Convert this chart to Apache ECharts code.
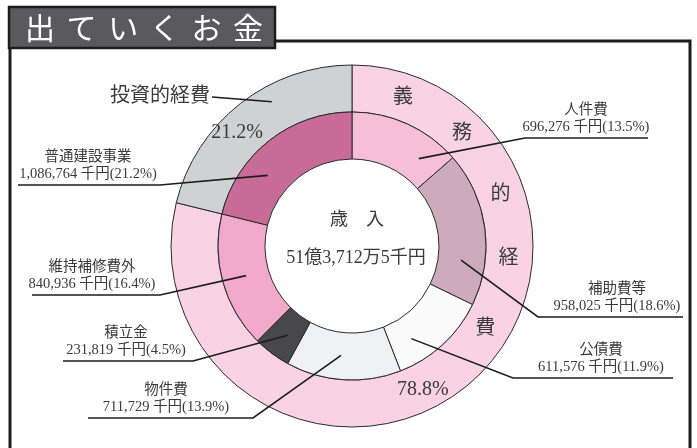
<!DOCTYPE html>
<html>
<head>
<meta charset="utf-8">
<title>出ていくお金</title>
<script src="https://cdn.jsdelivr.net/npm/echarts@6/dist/echarts.min.js"></script>
<style>
  html, body { margin: 0; padding: 0; background: #fff; }
  #chart { width: 697px; height: 448px; }
</style>
</head>
<body>
<div id="chart"></div>
<script>
  // 内訳（単位：千円）
  const itemNames = ['人件費', '補助費等', '公債費', '物件費', '積立金', '維持補修費外', '普通建設事業']
  const itemValues = [696276, 958025, 611576, 711729, 231819, 840936, 1086764]
  const itemPercents = ['13.5', '18.6', '11.9', '13.9', '4.5', '16.4', '21.2']
  const itemColors = ['#f6bfd7', '#cdabbd', '#fafafa', '#f0f1f3', '#48484a', '#f3a9cc', '#c86b98']

  // 性質別の大分類
  const groupNames = ['義務的経費', '投資的経費']
  const groupValues = [4050361, 1086764]
  const groupPercents = ['78.8', '21.2']
  const groupColors = ['#f9d3e4', '#d0d1d3']

  const titleText = '出ていくお金'
  const centerTitle = '歳　入'
  const centerTotal = '51億3,712万5千円'

  const FONT = "'Liberation Serif', 'Noto Sans CJK JP', serif"
  const TEXT = '#3a3a3a'
  const LINE = '#1c1c1c'
  const CX = 352
  const CY = 246
  const R_IN = [87, 134]
  const R_OUT = [134, 181]

  // where each callout sits: text centre, underline y, underline ends, angle nudge for the anchor
  const spots = [
    { cx: 586, uy: 138, near: 525, far: 648, nudge: 13 },
    { cx: 617, uy: 317, near: 538, far: 683, nudge: 15 },
    { cx: 601, uy: 378, near: 513, far: 673, nudge: 10 },
    { cx: 166, uy: 418, near: 253, far: 88, nudge: 2 },
    { cx: 126, uy: 361, near: 193, far: 63, nudge: -1 },
    { cx: 92, uy: 295, near: 160, far: 32, nudge: 0 },
    { cx: 88, uy: 185, near: 160, far: 18, nudge: -12 }
  ]

  // angle in degrees, clockwise from 12 o'clock
  const polar = (deg, r) => {
    const a = deg * Math.PI / 180
    return [CX + r * Math.sin(a), CY - r * Math.cos(a)]
  }

  const total = itemValues.reduce((s, v) => s + v, 0)
  const midAngles = []
  let acc = 0
  itemValues.forEach(v => {
    midAngles.push((acc + v / 2) / total * 360)
    acc += v
  })
  const groupTotal = groupValues.reduce((s, v) => s + v, 0)
  const investMid = (groupValues[0] + groupValues[1] / 2) / groupTotal * 360

  const fmt = v => v.toLocaleString('en-US')

  const graphics = []

  // frame
  graphics.push({
    type: 'polyline', z: 5,
    shape: { points: [[10, 450], [10, 41], [690, 41], [690, 450]] },
    style: { stroke: LINE, lineWidth: 3, fill: null }
  })
  // title bar
  graphics.push({
    type: 'rect', z: 10,
    shape: { x: 9, y: 7, width: 266, height: 41 },
    style: { fill: '#5a5a5c', stroke: LINE, lineWidth: 2.5 }
  })
  Array.from(titleText).forEach((ch, i) => {
    graphics.push({
      type: 'text', z: 11, x: 40 + i * 41.6, y: 28,
      style: {
        text: ch, fill: '#fff', font: "30px 'Noto Sans CJK JP'",
        align: 'center', verticalAlign: 'middle'
      }
    })
  })

  // leader lines (drawn on top of the rings)
  spots.forEach((s, i) => {
    graphics.push({
      type: 'polyline', z: 30,
      shape: { points: [polar(midAngles[i] + s.nudge, 110), [s.near, s.uy], [s.far, s.uy]] },
      style: { stroke: LINE, lineWidth: 1.6, fill: null }
    })
  })
  graphics.push({
    type: 'polyline', z: 30,
    shape: { points: [[212, 97], polar(investMid + 9, 165)] },
    style: { stroke: LINE, lineWidth: 1.6, fill: null }
  })

  // centre text
  graphics.push({
    type: 'text', z: 20, x: CX + 5, y: CY - 26,
    style: { text: centerTitle, fill: TEXT, font: '18px ' + FONT, align: 'center', verticalAlign: 'middle' }
  })
  graphics.push({
    type: 'text', z: 20, x: CX + 4, y: CY + 12,
    style: { text: centerTotal, fill: TEXT, font: '18px ' + FONT, align: 'center', verticalAlign: 'middle' }
  })

  // 義務的経費 written down the pink ring
  const ringAngles = [19, 44.5, 71, 94.5, 122]
  Array.from(groupNames[0]).forEach((ch, i) => {
    const p = polar(ringAngles[i], 157)
    graphics.push({
      type: 'text', z: 20, x: p[0], y: p[1],
      style: { text: ch, fill: TEXT, font: '20px ' + FONT, align: 'center', verticalAlign: 'middle' }
    })
  })

  // group percentages
  const pctSpots = [[153.7, 160], [314.5, 161]]
  groupPercents.forEach((t, i) => {
    const p = polar(pctSpots[i][0], pctSpots[i][1])
    graphics.push({
      type: 'text', z: 20, x: p[0], y: p[1],
      style: { text: t + '%', fill: TEXT, font: '20px ' + FONT, align: 'center', verticalAlign: 'middle' }
    })
  })

  const chart = echarts.init(document.getElementById('chart'), null, { renderer: 'canvas' })

  const option = {
    backgroundColor: '#fff',
    animation: false,
    graphic: graphics,
    series: [
      {
        name: 'group',
        type: 'pie',
        center: [CX, CY],
        radius: R_OUT,
        startAngle: 90,
        clockwise: true,
        avoidLabelOverlap: false,
        silent: true,
        itemStyle: { borderColor: '#2a2a2a', borderWidth: 1 },
        label: {
          show: true,
          position: 'outside',
          color: TEXT,
          fontFamily: FONT,
          fontSize: 20
        },
        labelLine: { show: false },
        labelLayout: params => {
          if (params.dataIndex !== 1) return {}
          return { x: 210, y: 97, align: 'right', verticalAlign: 'middle' }
        },
        data: groupNames.map((n, i) => ({
          name: n,
          value: groupValues[i],
          itemStyle: { color: groupColors[i] },
          label: { show: i === 1 }
        }))
      },
      {
        name: 'items',
        type: 'pie',
        center: [CX, CY],
        radius: R_IN,
        startAngle: 90,
        clockwise: true,
        avoidLabelOverlap: false,
        silent: true,
        itemStyle: { borderColor: '#2a2a2a', borderWidth: 1 },
        label: {
          show: true,
          position: 'outside',
          color: TEXT,
          fontFamily: FONT,
          formatter: p => `{n|${p.name}}\n{v|${fmt(p.value)} 千円(${itemPercents[p.dataIndex]}%)}`,
          rich: {
            n: { fontFamily: FONT, fontSize: 14.5, lineHeight: 17, color: TEXT },
            v: { fontFamily: FONT, fontSize: 14.5, lineHeight: 17, color: TEXT }
          }
        },
        labelLine: { show: false },
        labelLayout: params => {
          const s = spots[params.dataIndex]
          return { x: s.cx, y: s.uy - 2, align: 'center', verticalAlign: 'bottom' }
        },
        data: itemNames.map((n, i) => ({
          name: n,
          value: itemValues[i],
          itemStyle: { color: itemColors[i] }
        }))
      }
    ]
  }

  chart.setOption(option)
</script>
</body>
</html>
